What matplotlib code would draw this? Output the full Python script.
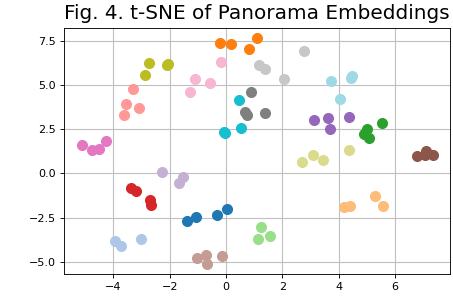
import matplotlib
matplotlib.use("Agg")
import matplotlib.pyplot as plt

# t-SNE coordinates, one list per panorama group (colours from tab20)
groups = ["blue", "lightblue", "orange", "lightorange", "green", "lightgreen",
          "red", "lightred", "purple", "lightpurple", "brown", "lightbrown",
          "pink", "lightpink", "gray", "lightgray", "olive", "khaki",
          "cyan", "lightcyan"]

x_blue = [-1.40, -1.06, -0.33, 0.02]
y_blue = [-2.69, -2.48, -2.37, -1.99]
x_lightblue = [-3.94, -3.73, -3.02]
y_lightblue = [-3.83, -4.11, -3.71]
x_orange = [-0.20, 0.19, 0.80, 1.09]
y_orange = [7.39, 7.29, 7.05, 7.67]
x_lightorange = [4.20, 4.41, 5.29, 5.58]
y_lightorange = [-1.93, -1.86, -1.29, -1.82]
x_green = [5.53, 5.02, 4.88, 5.06]
y_green = [2.84, 2.50, 2.21, 1.99]
x_lightgreen = [1.23, 1.15, 1.56]
y_lightgreen = [-3.03, -3.69, -3.55]
x_red = [-3.37, -3.18, -2.70, -2.65]
y_red = [-0.84, -0.99, -1.52, -1.80]
x_lightred = [-3.31, -3.55, -3.10, -3.62]
y_lightred = [4.76, 3.92, 3.71, 3.30]
x_purple = [3.13, 3.62, 3.68, 4.36]
y_purple = [2.99, 3.10, 2.53, 3.16]
x_lightpurple = [-2.28, -1.54, -1.67]
y_lightpurple = [0.06, -0.19, -0.57]
x_brown = [6.77, 7.09, 7.34, 7.06]
y_brown = [0.98, 1.27, 1.04, 1.02]
x_lightbrown = [-1.03, -0.72, -0.67, -0.15]
y_lightbrown = [-4.81, -4.60, -5.11, -4.70]
x_pink = [-5.12, -4.75, -4.52, -4.25]
y_pink = [1.61, 1.31, 1.40, 1.82]
x_lightpink = [-0.17, -1.10, -0.56, -1.27]
y_lightpink = [6.27, 5.36, 5.11, 4.58]
x_gray = [0.88, 0.66, 0.74, 1.38]
y_gray = [4.60, 3.45, 3.27, 3.43]
x_lightgray = [2.76, 1.18, 1.38, 2.07]
y_lightgray = [6.93, 6.15, 5.90, 5.34]
x_olive = [-2.73, -2.86, -2.05, -2.10]
y_olive = [6.23, 5.58, 6.19, 6.10]
x_khaki = [4.35, 3.10, 2.69, 3.43]
y_khaki = [1.31, 1.06, 0.62, 0.76]
x_cyan = [0.46, 0.54, -0.06, -0.02]
y_cyan = [4.16, 2.56, 2.31, 2.28]
x_lightcyan = [3.74, 4.47, 4.43, 4.04]
y_lightcyan = [5.20, 5.49, 5.40, 4.22]

data = globals()
cmap = plt.get_cmap("tab20")

fig = plt.figure(figsize=(453 / 80, 304 / 80), dpi=80)
ax = fig.add_axes([64 / 453, (304 - 274.3) / 304, (450 - 64) / 453, (274.3 - 28.3) / 304])

for i, g in enumerate(groups):
    ax.scatter(data["x_" + g], data["y_" + g], s=80, color=cmap(i), zorder=3)

ax.set_xlim(-5.75, 7.95)
ax.set_ylim(-5.71, 8.2)
ax.set_xticks([-4, -2, 0, 2, 4, 6])
ax.set_yticks([-5.0, -2.5, 0.0, 2.5, 5.0, 7.5])
ax.grid(True, color="#c0c0c0", linewidth=1.0, zorder=0)
ax.set_axisbelow(True)
ax.tick_params(labelsize=10)
ax.set_title("Fig. 4. t-SNE of Panorama Embeddings", fontsize=18, pad=8)

fig.savefig("out.png", dpi=80)
